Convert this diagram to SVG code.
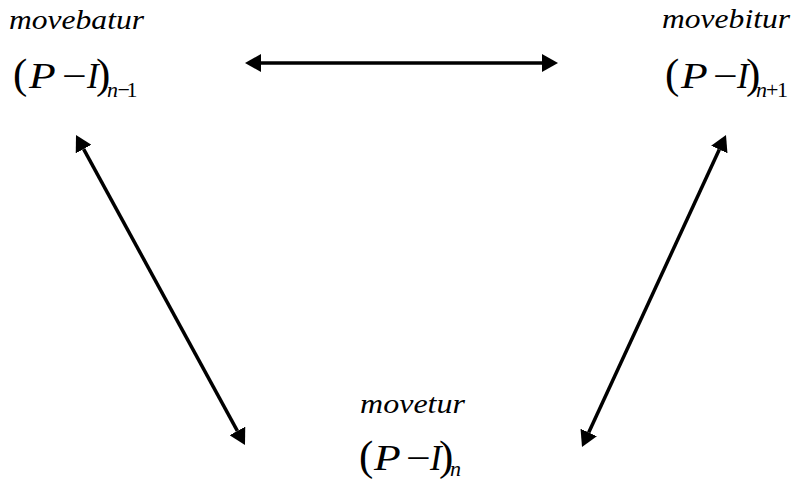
<svg xmlns="http://www.w3.org/2000/svg" width="794" height="480" viewBox="0 0 794 480">
<defs>
<style>
text{font-family:"Liberation Serif","Times New Roman","DejaVu Serif",serif;fill:#000}
.lbl{font-style:italic;font-size:27px}
.it{font-style:italic;font-size:35px}
.up{font-size:35px}
.par{font-size:43px}
.sit{font-style:italic;font-size:22px}
.sup{font-size:22px}
.conn{stroke:#000;stroke-width:3.5;fill:none;marker-start:url(#ah);marker-end:url(#ah)}
</style>
<marker id="ah" viewBox="0 0 16 18" refX="0" refY="9" markerWidth="16" markerHeight="18" markerUnits="userSpaceOnUse" orient="auto-start-reverse">
<path d="M0,0 L16,9 L0,18 Z" fill="#000"/>
</marker>
</defs>
<rect width="794" height="480" fill="#fff"/>
<g id="node-past">
<text class="lbl" x="9" y="29" textLength="135" lengthAdjust="spacingAndGlyphs">movebatur</text>
<text class="par" x="13" y="88">(</text>
<text class="it" transform="translate(29,88) scale(1.25,1)">P</text>
<text class="up" transform="translate(62,88) scale(1.25,1)">−</text>
<text class="it" x="87" y="88">I</text>
<text class="par" x="96" y="88">)</text>
<text class="sit" x="107" y="97">n</text>
<text class="sup" x="117.5" y="97">−</text>
<text class="sup" x="126.5" y="97">1</text>
</g>
<g id="node-future">
<text class="lbl" x="662" y="28" textLength="128" lengthAdjust="spacingAndGlyphs">movebitur</text>
<text class="par" x="665" y="88">(</text>
<text class="it" transform="translate(681,88) scale(1.25,1)">P</text>
<text class="up" transform="translate(713,88) scale(1.25,1)">−</text>
<text class="it" x="737" y="88">I</text>
<text class="par" x="746" y="88">)</text>
<text class="sit" x="756" y="97">n</text>
<text class="sup" x="766" y="97">+</text>
<text class="sup" x="777" y="97">1</text>
</g>
<g id="node-present">
<text class="lbl" x="360" y="413" textLength="105" lengthAdjust="spacingAndGlyphs">movetur</text>
<text class="par" x="359" y="470">(</text>
<text class="it" transform="translate(374,470) scale(1.25,1)">P</text>
<text class="up" transform="translate(406,470) scale(1.25,1)">−</text>
<text class="it" x="430" y="470">I</text>
<text class="par" x="439" y="470">)</text>
<text class="sit" x="450" y="476">n</text>
</g>
<g id="connectors">
<line class="conn" x1="261" y1="63" x2="542" y2="63"/>
<line class="conn" x1="83.66" y1="149.05" x2="237.34" y2="430.95"/>
<line class="conn" x1="719.29" y1="149.53" x2="588.71" y2="432.47"/>
</g>
</svg>
